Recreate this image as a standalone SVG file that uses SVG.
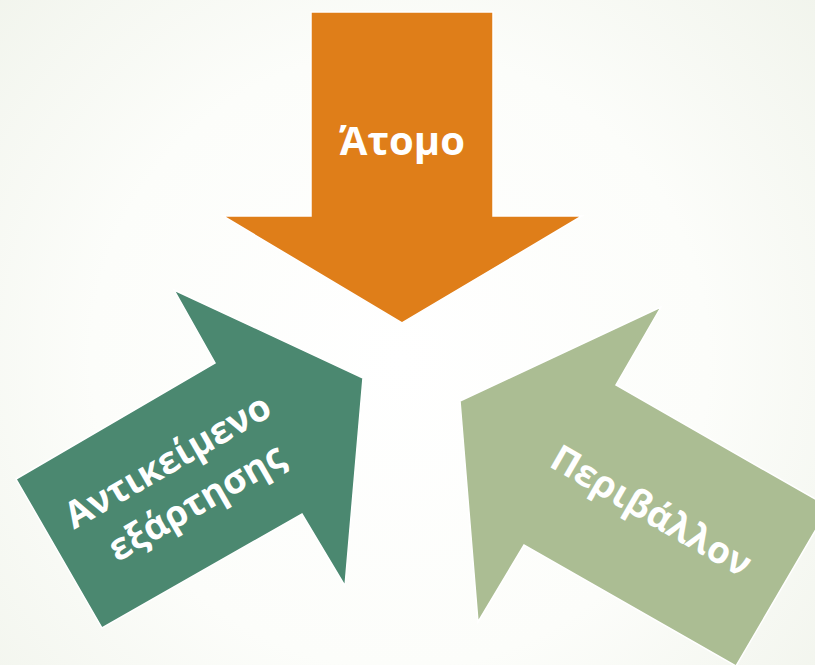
<svg xmlns="http://www.w3.org/2000/svg" width="815" height="665" viewBox="0 0 815 665">
<defs>
<radialGradient id="bg" cx="400" cy="360" r="560" gradientUnits="userSpaceOnUse">
<stop offset="0" stop-color="#ffffff"/>
<stop offset="0.55" stop-color="#fcfdfa"/>
<stop offset="1" stop-color="#f1f4ec"/>
</radialGradient>
</defs>
<style>
.lbl{font-family:"Open Sans","Noto Sans","DejaVu Sans",sans-serif;font-weight:700;fill:#ffffff;font-size:40px;text-anchor:middle}
.rot{font-size:37px}
.arr{stroke:#ffffff;stroke-width:1.5;stroke-linejoin:miter}
</style>
<rect width="815" height="665" fill="url(#bg)"/>
<g id="connectors"></g>
<g id="node-atomo">
<polygon class="arr" fill="#df7e19" points="311,12 493,12 493,216 582,216 402,323 223,216 311,216"/>
<text class="lbl" x="402" y="155">Άτομο</text>
</g>
<g id="node-antikeimeno">
<polygon class="arr" fill="#4b8870" points="16,479 215,363 174,290 363,378 345,586 302,514 102,628"/>
<g transform="translate(174,472) rotate(-30)">
<text class="lbl rot" x="0" y="0">Αντικείμενο</text>
<text class="lbl rot" x="4" y="50">εξάρτησης</text>
</g>
</g>
<g id="node-perivallon">
<polygon class="arr" fill="#abbd93" points="661,307 616,385 829,507 736,666 524,545 478,622 460,401"/>
<g transform="translate(645,522) rotate(30)">
<text class="lbl rot" x="0" y="0">Περιβάλλον</text>
</g>
</g>
</svg>
